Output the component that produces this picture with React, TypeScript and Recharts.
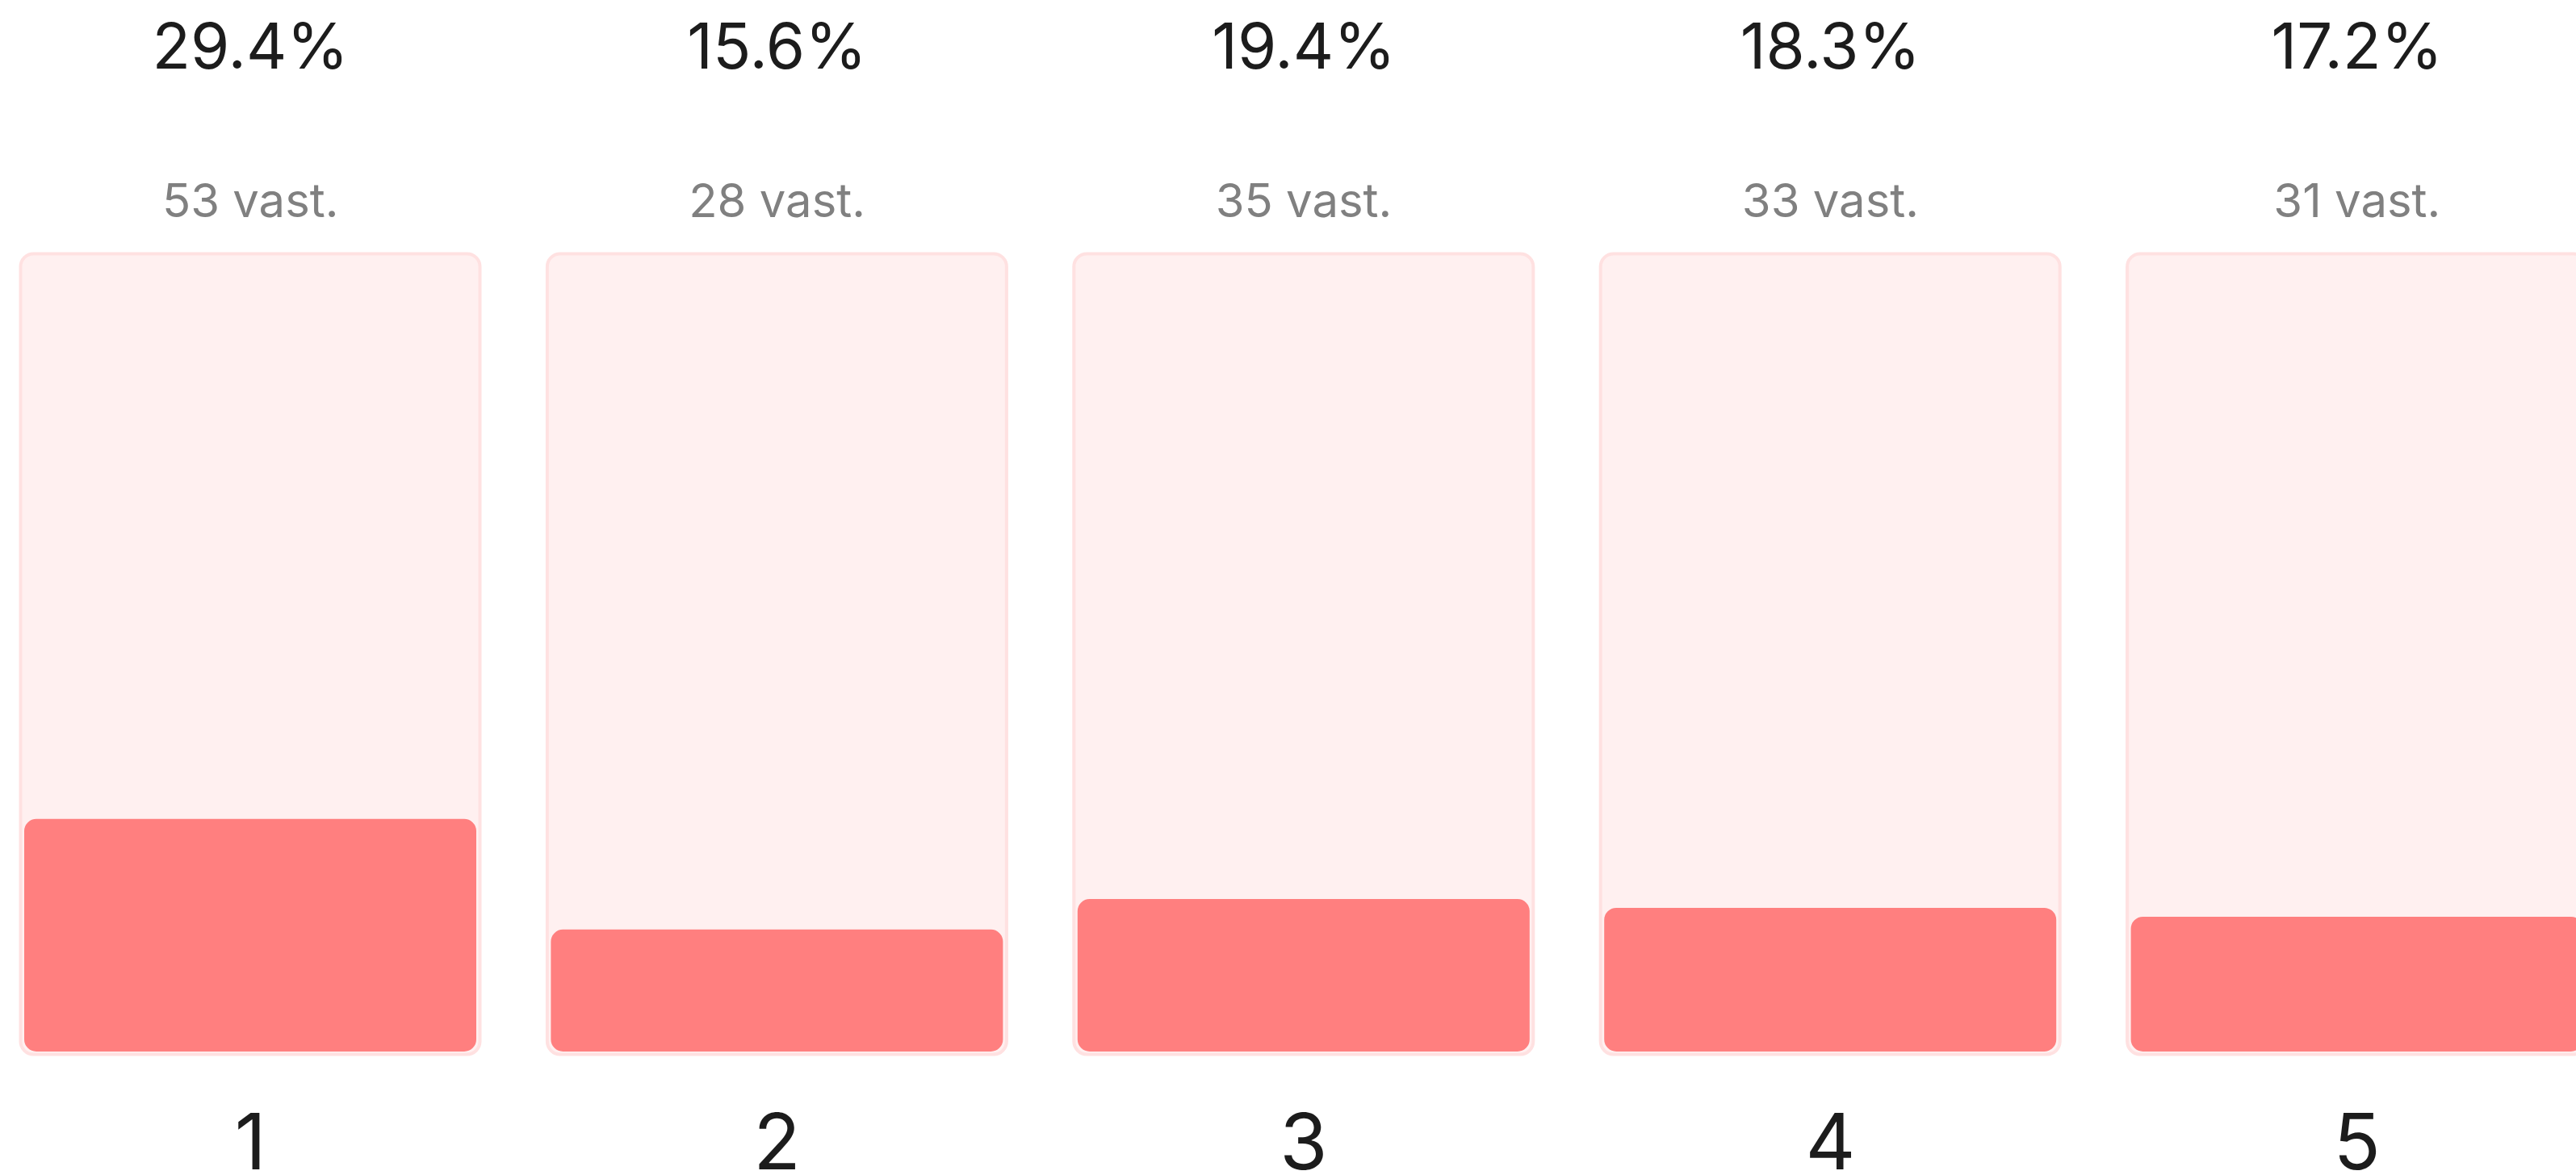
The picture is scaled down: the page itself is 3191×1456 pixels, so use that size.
import { BarChart, Bar, XAxis, YAxis, Rectangle } from "recharts";

const categories = ["1", "2", "3", "4", "5"];
const percentages = [29.4, 15.6, 19.4, 18.3, 17.2];
const counts = [53, 28, 35, 33, 31];

const data = categories.map((name, i) => ({
    name,
    pct: percentages[i],
    count: counts[i],
}));

const FONT = "Inter, 'Noto Sans', sans-serif";

function TopTick({ x, y, index }: any) {
    const row = data[index];
    if (!row) return null;
    return (
        <g>
            <text x={x} y={y - 229.5} textAnchor="middle" fontFamily={FONT} fontSize={78} fill="#1c1c1c">
                {row.pct.toFixed(1)}%
            </text>
            <text x={x} y={y - 45.5} textAnchor="middle" fontFamily={FONT} fontSize={58} fill="#808080">
                {row.count} vast.
            </text>
        </g>
    );
}

function BottomTick({ x, y, payload }: any) {
    return (
        <text x={x} y={y + 142} textAnchor="middle" fontFamily={FONT} fontSize={96} fill="#1c1c1c">
            {payload.value}
        </text>
    );
}

// red fill sits a few px inside the pale track
function InsetBar({ x, y, width, height }: any) {
    return (
        <Rectangle
            x={x + 4.5}
            y={y}
            width={width - 9}
            height={Math.max(height - 3.5, 0)}
            radius={15}
            fill="#ff7f7f"
        />
    );
}

export default function App() {
    return (
        <div style={{ position: "absolute", left: 0, top: 0, width: 3191, height: 1456, overflow: "hidden", background: "#fff" }}>
            <div style={{ position: "absolute", left: -16, top: 0 }}>
                <BarChart
                    width={3262}
                    height={1456}
                    data={data}
                    margin={{ top: 0, right: 0, left: 0, bottom: 0 }}
                    barCategoryGap={41.5}
                >
                    <XAxis
                        xAxisId="top"
                        orientation="top"
                        dataKey="name"
                        height={314.5}
                        axisLine={false}
                        tickLine={false}
                        tickSize={0}
                        tickMargin={0}
                        interval={0}
                        tick={<TopTick />}
                    />
                    <XAxis
                        xAxisId="bottom"
                        orientation="bottom"
                        dataKey="name"
                        height={149.5}
                        axisLine={false}
                        tickLine={false}
                        tickSize={0}
                        tickMargin={0}
                        interval={0}
                        tick={<BottomTick />}
                    />
                    <YAxis hide domain={[0, 100]} />
                    <Bar
                        xAxisId="bottom"
                        dataKey="pct"
                        isAnimationActive={false}
                        background={{ fill: "#fff0f0", stroke: "#ffe1e1", strokeWidth: 4, radius: 16 }}
                        shape={<InsetBar />}
                    />
                </BarChart>
            </div>
        </div>
    );
}
